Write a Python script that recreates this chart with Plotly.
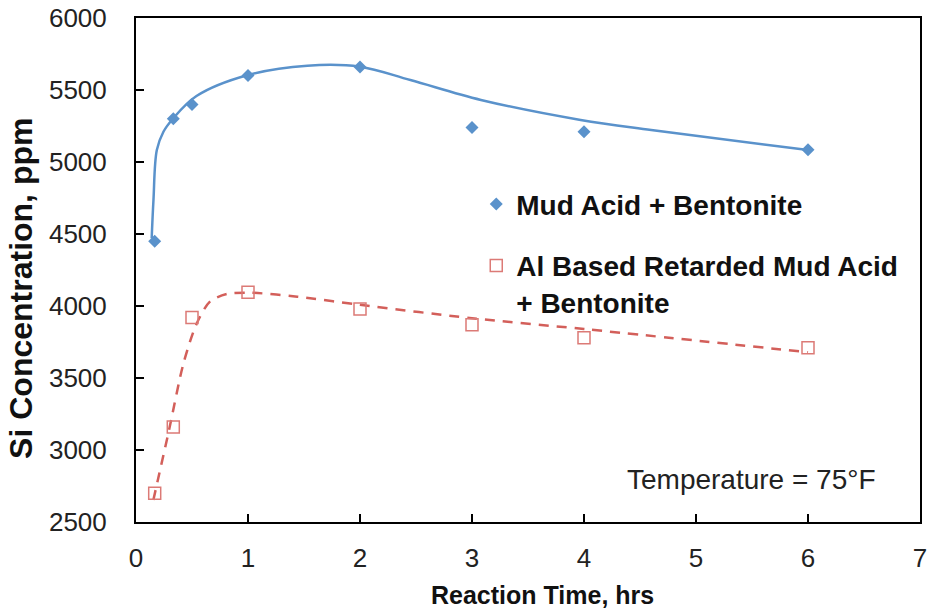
import plotly.graph_objects as go

# Measured Si concentration (ppm) vs reaction time (hrs)
time_mud = [0.167, 0.333, 0.5, 1, 2, 3, 4, 6]
si_mud = [4450, 5300, 5400, 5600, 5660, 5240, 5210, 5085]

time_al = [0.167, 0.333, 0.5, 1, 2, 3, 4, 6]
si_al = [2700, 3160, 3920, 4095, 3980, 3870, 3780, 3710]

# Trend curves
trend_mud_x = [0.14, 0.156, 0.186, 0.245, 0.326, 0.54, 1.0, 1.53, 2.0, 2.45, 3.08, 3.97, 4.6, 6.0]
trend_mud_y = [4470, 4736, 5083, 5210, 5297, 5458, 5604, 5669, 5662, 5569, 5431, 5292, 5222, 5083]

trend_al_x = [0.155, 0.295, 0.424, 0.543, 0.66, 0.81, 1.02, 1.44, 2.0, 3.0, 4.0, 6.0]
trend_al_y = [2653, 3139, 3602, 3880, 4030, 4083, 4092, 4065, 4008, 3915, 3840, 3679]

x_ticks = [0, 1, 2, 3, 4, 5, 6, 7]
y_ticks = [2500, 3000, 3500, 4000, 4500, 5000, 5500, 6000]

BLUE = "#5A92CB"
RED_LINE = "#D35F5A"
RED_MARK = "#DC7A76"
FONT = "Liberation Sans, Arial, sans-serif"

fig = go.Figure()

fig.add_trace(go.Scatter(
    x=trend_mud_x, y=trend_mud_y, mode="lines",
    line=dict(color=BLUE, width=2.5, shape="spline", smoothing=1.0),
    showlegend=False, hoverinfo="skip",
))
fig.add_trace(go.Scatter(
    x=trend_al_x, y=trend_al_y, mode="lines",
    line=dict(color=RED_LINE, width=2.5, dash="10px,8px", shape="spline", smoothing=0.8),
    showlegend=False, hoverinfo="skip",
))
fig.add_trace(go.Scatter(
    x=time_mud, y=si_mud, mode="markers", name="Mud Acid + Bentonite",
    legendgroup="a",
    marker=dict(symbol="diamond", size=10, color=BLUE, line=dict(width=0)),
))
fig.add_trace(go.Scatter(
    x=time_al, y=si_al, mode="markers",
    name="Al Based Retarded Mud Acid<br>+ Bentonite",
    legendgroup="b",
    marker=dict(symbol="square-open", size=12, color=RED_MARK, line=dict(width=1.5, color=RED_MARK)),
))

axis_common = dict(
    showline=True, linecolor="black", linewidth=2, mirror=True,
    ticks="inside", ticklen=8, tickwidth=2, tickcolor="black",
    showgrid=False, zeroline=False, automargin=False,
    tickfont=dict(family=FONT, size=26, color="#222222"),
)

fig.update_xaxes(range=[0, 7], tickvals=x_ticks, ticklabelstandoff=12, **axis_common)
fig.update_yaxes(range=[2500, 6000], tickvals=y_ticks, ticklabelstandoff=22, **axis_common)

fig.add_annotation(
    text="<b>Reaction Time, hrs</b>", xref="paper", yref="paper",
    x=0.519, y=-0.145, xanchor="center", yanchor="middle", showarrow=False,
    font=dict(family=FONT, size=25, color="#111111"),
)
fig.add_annotation(
    text="<b>Si Concentration, ppm</b>", xref="paper", yref="paper",
    x=-0.147, y=0.464, xanchor="center", yanchor="middle", showarrow=False,
    textangle=-90, font=dict(family=FONT, size=32, color="#111111"),
)
fig.add_annotation(
    text="Temperature = 75°F", xref="paper", yref="paper",
    x=0.946, y=0.084, xanchor="right", yanchor="middle", showarrow=False,
    font=dict(family=FONT, size=28, color="#222222"),
)

fig.update_layout(
    width=933, height=613,
    margin=dict(l=136, r=13, t=18, b=91),
    paper_bgcolor="white", plot_bgcolor="white",
    legend=dict(
        x=0.434, y=0.68, xanchor="left", yanchor="top",
        bgcolor="rgba(0,0,0,0)", borderwidth=0,
        font=dict(family=FONT, size=28, color="#111111", weight="bold"),
        valign="top", traceorder="grouped", tracegroupgap=22,
    ),
)

fig.write_html("out.html")
